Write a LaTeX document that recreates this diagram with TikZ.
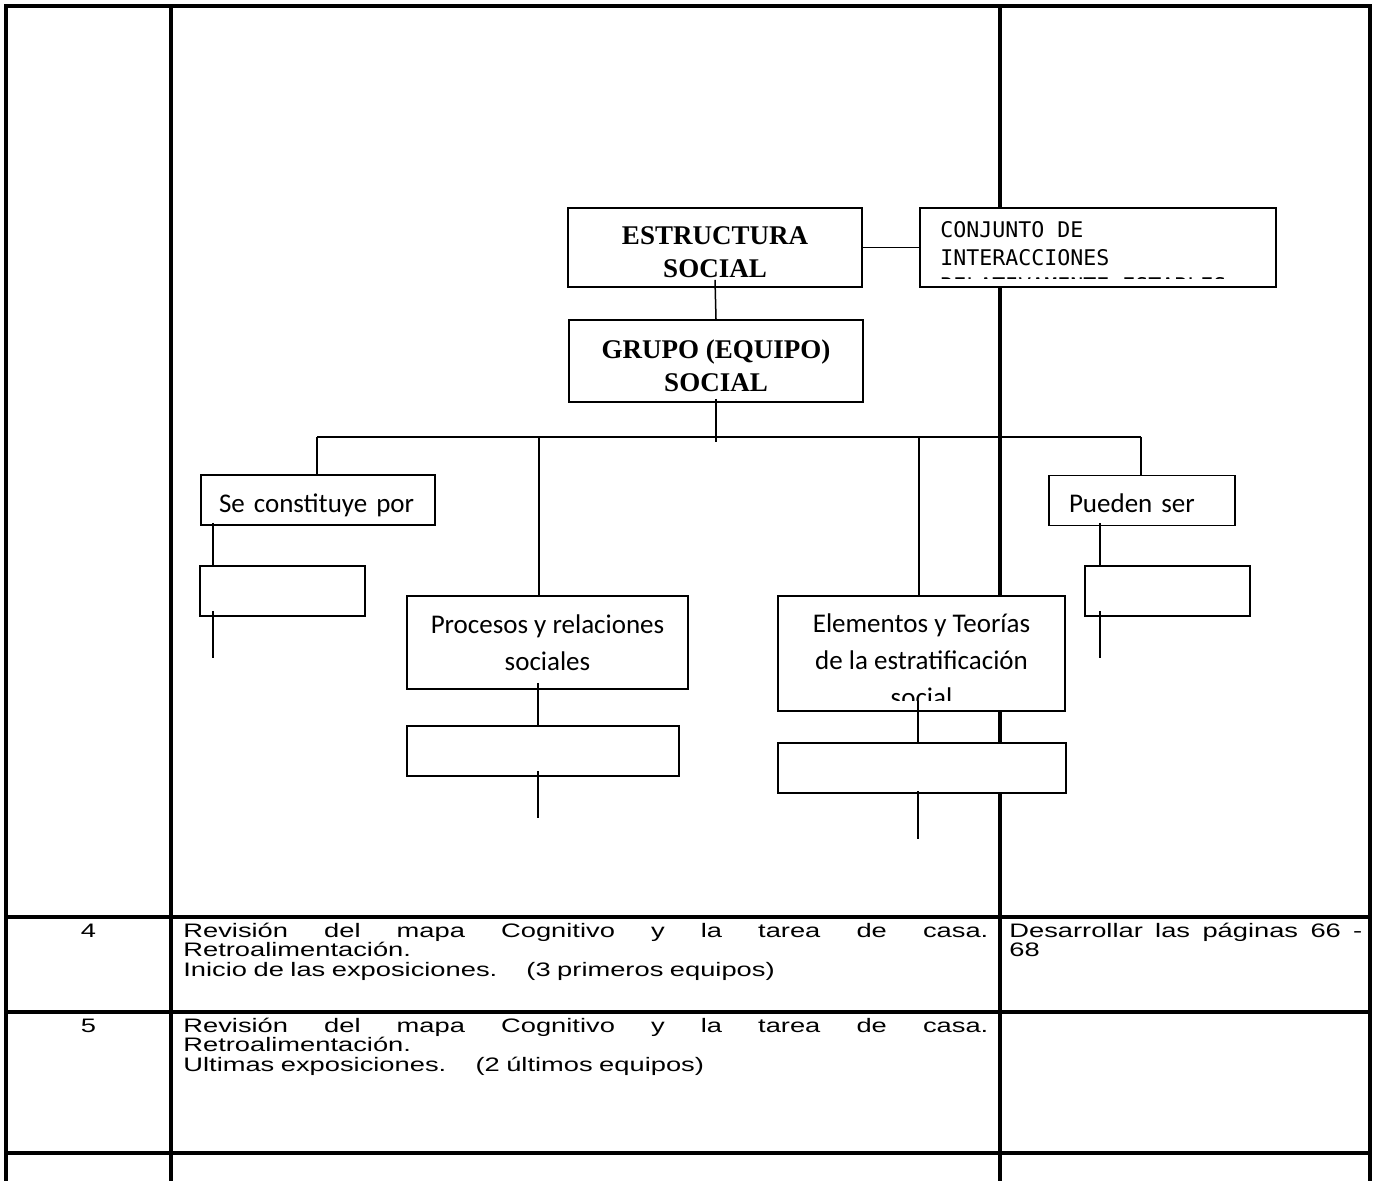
\documentclass[tikz,border=0pt]{standalone}
\usepackage{fontspec}
\usepackage{tikz}
\usetikzlibrary{positioning}
\setmainfont{Liberation Serif}
\newfontfamily\calfont{Carlito}
\newfontfamily\conjfont{DejaVu Sans Mono}
\newfontfamily\tabfont[FakeStretch=1.4]{Liberation Sans}
\newcommand\revline[1]{\makebox[#1][s]{Revisión\hfill del\hfill mapa\hfill Cognitivo\hfill y\hfill la\hfill tarea\hfill de\hfill casa.}}

\begin{document}
\begin{tikzpicture}[x=0.5pt,y=-0.5pt,
  tabline/.style={line width=1.6pt},
  mapbox/.style={draw,line width=0.9pt,fill=white,inner sep=0pt},
  titlebox/.style={mapbox,minimum width=147pt,align=center,font=\bfseries\fontsize{13.5}{16.5}\selectfont},
  labelbox/.style={mapbox,minimum height=25pt,align=left,text height=12.5pt,text depth=0pt,font=\calfont\fontsize{13.5}{18.5}\selectfont},
  emptybox/.style={mapbox,minimum height=25pt},
  link/.style={line width=0.75pt},
  celltext/.style={inner sep=0pt,align=left,font={\tabfont\fontsize{9.75}{9.9}\selectfont\lineskiplimit=-20pt}}]
\useasboundingbox (0,0) rectangle (1376,1181);
% table
\draw[tabline] (6,1181) -- (6,6) -- (1370,6) -- (1370,1181);
\foreach \cx in {171,1000} \draw[tabline] (\cx,6) -- (\cx,1181);
\foreach \ry in {917,1012,1153} \draw[tabline] (6,\ry) -- (1370,\ry);
\node[celltext,anchor=base] (wk4) at (88.5,937) {4};
\node[celltext,anchor=base west,text width=402.5pt] (act4) at (183,937) {\revline{402.5pt}\\Retroalimentación.\\Inicio de las exposiciones.\hspace{1em} (3 primeros equipos)};
\node[celltext,anchor=base west,text width=176.5pt] (task4) at (1009,937) {\makebox[176.5pt][s]{Desarrollar\hfill las\hfill páginas\hfill 66\hfill -}\\68};
\node[celltext,anchor=base] (wk5) at (88.5,1032) {5};
\node[celltext,anchor=base west,text width=402.5pt] (act5) at (183,1032) {\revline{402.5pt}\\Retroalimentación.\\Ultimas exposiciones.\hspace{1em} (2 últimos equipos)};
% map
\node[titlebox,minimum height=39.5pt] (estr) at (715,247.5) {\rule{0pt}{14pt}ESTRUCTURA\\SOCIAL};
\node[mapbox,minimum width=178pt,minimum height=39.5pt] (conj) at (1098,247.5) {};
\begin{scope}
  \clip (921,210) rectangle (1275,279);
  \node[anchor=north west,inner sep=0pt,align=left,font=\conjfont\fontsize{10.8}{14}\selectfont] (conjtxt) at (940,221) {CONJUNTO DE\\INTERACCIONES\\RELATIVAMENTE ESTABLES};
\end{scope}
\node[titlebox,minimum height=41pt] (grupo) at (716,361) {\rule{0pt}{14.5pt}GRUPO (EQUIPO)\\SOCIAL};
\node[labelbox,minimum width=117pt,text width=99pt] (seco) at (318,500) {Se constituye por};
\node[labelbox,minimum width=93pt,text width=73pt] (puede) at (1142,500.5) {Pueden ser};
\node[emptybox,minimum width=82.5pt] (e1) at (282.5,591) {};
\node[emptybox,minimum width=82.5pt] (e4) at (1167.5,591) {};
\node[mapbox,minimum width=140.5pt,minimum height=46.5pt,align=center,font=\calfont\fontsize{13.5}{18.5}\selectfont] (proc) at (547.5,642.5) {Procesos y relaciones\\sociales};
\node[emptybox,minimum width=136pt] (e2) at (543,751) {};
\node[mapbox,minimum width=143.5pt,minimum height=57.5pt] (elem) at (921.5,653.5) {};
\begin{scope}
  \clip (779,597) rectangle (1064,700);
  \node[anchor=north,inner sep=0pt,align=center,font=\calfont\fontsize{13.5}{18.5}\selectfont] (elemtxt) at (921.5,613) {Elementos y Teorías\\de la estratificación\\social};
\end{scope}
\node[emptybox,minimum width=144pt] (e3) at (922,768) {};
% links
\coordinate (barL) at (317,437);
\coordinate (barR) at (1141,437);
\coordinate (dropP) at (539,437);
\coordinate (dropE) at (919,437);
\draw[link] (estr.east) -- (conj.west);
\draw[link] ([yshift=4pt]estr.south) -- (grupo.north);
\draw[link] ([yshift=2pt]grupo.south) -- ++(0,43);
\draw[link] (barL) -- (barR);
\draw[link] (barL) -- (barL |- seco.north);
\draw[link] (barR) -- (barR |- puede.north);
\draw[link] (dropP) -- (dropP |- proc.north);
\draw[link] (dropE) -- (dropE |- elem.north);
\draw[link] ([xshift=6.5pt,yshift=1.5pt]seco.south west) -- ([xshift=7pt]e1.north west);
\draw[link] ([xshift=7pt,yshift=3pt]e1.south west) -- ++(0,47);
\draw[link] ([xshift=26pt,yshift=1.5pt]puede.south west) -- ([xshift=8pt]e4.north west);
\draw[link] ([xshift=8pt,yshift=3pt]e4.south west) -- ++(0,47);
\draw[link] ([xshift=66pt,yshift=3.5pt]proc.south west) -- ([xshift=66pt]e2.north west);
\draw[link] ([xshift=66pt,yshift=3pt]e2.south west) -- ++(0,47);
\draw[link] ([xshift=70.5pt,yshift=5.5pt]elem.south west) -- ([xshift=70.5pt]e3.north west);
\draw[link] ([xshift=70.5pt,yshift=1.5pt]e3.south west) -- ++(0,48);
\end{tikzpicture}
\end{document}
